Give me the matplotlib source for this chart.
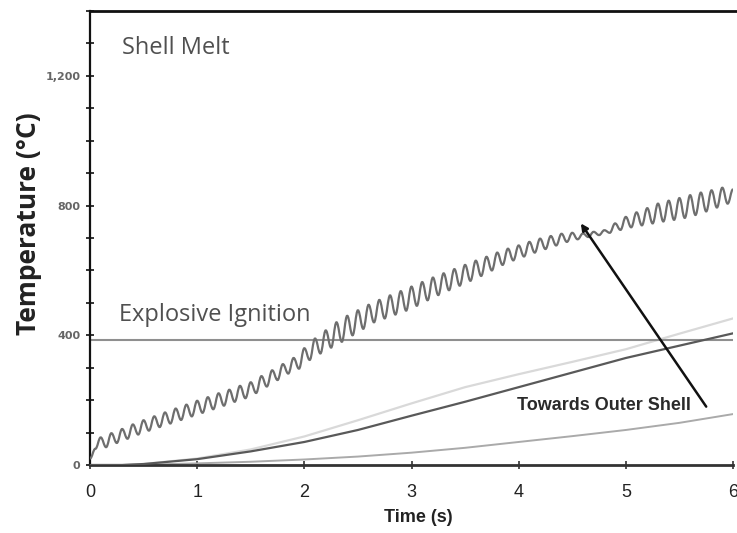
import numpy as np
import matplotlib
matplotlib.use("Agg")
import matplotlib.pyplot as plt
from matplotlib.ticker import MultipleLocator
from matplotlib.path import Path
from matplotlib.patches import PathPatch

# ---- data ----
shell_melt = 1400
ignition = 385

# oscillating temperature trace, sampled every 0.05 s from 0 to 6 s
wave = [20, 50, 85, 55, 98, 68, 111, 81, 125, 94,
        138, 106, 150, 117, 162, 128, 174, 139, 186, 150,
        198, 161, 209, 172, 221, 183, 232, 195, 244, 206,
        255, 222, 274, 242, 292, 262, 311, 282, 330, 297,
        360, 324, 390, 344, 415, 362, 440, 380, 460, 400,
        477, 420, 494, 440, 509, 452, 523, 464, 536, 476,
        550, 491, 564, 508, 578, 524, 591, 539, 604, 553,
        617, 568, 630, 583, 642, 600, 655, 617, 667, 631,
        677, 643, 688, 655, 698, 666, 706, 677, 713, 688,
        716, 696, 714, 703, 719, 709, 724, 716, 745, 725,
        765, 733, 779, 739, 792, 745, 806, 751, 815, 756,
        823, 762, 832, 771, 840, 782, 847, 794, 855, 806,
        850]
wave_t = np.linspace(0, 6, len(wave))

curve_t = [0, 0.3, 0.5, 1, 1.5, 2, 2.5, 3, 3.5, 4, 4.5, 5, 5.5, 6]
dark_curve = [0, 0, 3, 18, 42, 71, 108, 152, 195, 240, 285, 330, 368, 406]
light_curve = [0, 0, 3, 20, 48, 88, 138, 190, 240, 280, 318, 357, 405, 452]
low_curve = [0, 0, 1, 5, 10, 17, 26, 38, 53, 71, 89, 108, 130, 157]

x_ticks = [0, 1, 2, 3, 4, 5, 6]
y_ticks = [0, 400, 800, 1200]
y_tick_labels = ["0", "400", "800", "1,200"]

# ---- figure ----
W, H = 737, 533
fig = plt.figure(figsize=(W/100, H/100), dpi=100)
ax = fig.add_axes([90/W, 1-465/H, 643/W, 454/H])

ax.plot(curve_t, light_curve, color="#d9d9d9", lw=1.6, zorder=2)
ax.plot(curve_t, low_curve, color="#aaaaaa", lw=1.4, zorder=2)
ax.plot(curve_t, dark_curve, color="#595959", lw=1.6, zorder=3)
ax.axhline(ignition, color="#8f8f8f", lw=1.5, zorder=2)

# oscillating trace drawn as a smooth bezier path through the sampled points
verts = [(wave_t[0], wave[0])]
codes = [Path.MOVETO]
for i in range(len(wave) - 1):
    d = (wave_t[i + 1] - wave_t[i]) * 0.4
    verts += [(wave_t[i] + d, wave[i]), (wave_t[i + 1] - d, wave[i + 1]),
              (wave_t[i + 1], wave[i + 1])]
    codes += [Path.CURVE4] * 3
ax.add_patch(PathPatch(Path(verts, codes), fill=False, edgecolor="#6e6e6e",
                       lw=1.6, zorder=4))

ax.axhline(shell_melt, xmin=0, xmax=1.01, color="#111111", lw=2.0,
           clip_on=False, zorder=5)

ax.set_xlim(0, 6)
ax.set_ylim(0, 1400)

for s in ["top", "right"]:
    ax.spines[s].set_visible(False)
ax.spines["left"].set_linewidth(1.6)
ax.spines["left"].set_color("#111111")
ax.spines["bottom"].set_linewidth(2.0)
ax.spines["bottom"].set_color("#333333")

ax.set_xticks(x_ticks)
ax.set_xticklabels([str(v) for v in x_ticks], fontsize=13,
                   family="Liberation Sans", color="#222222")
ax.set_yticks(y_ticks)
ax.set_yticklabels(y_tick_labels, fontsize=8, fontweight="bold",
                   family="DejaVu Sans", color="#666666")
ax.yaxis.set_minor_locator(MultipleLocator(100))
ax.tick_params(axis="y", which="both", direction="inout", length=6, width=1.2,
               color="#111111", pad=4)
ax.tick_params(axis="x", which="both", direction="inout", length=6, width=1.2,
               color="#333333", pad=11)

fig.text(418/W, 1-518/H, "Time (s)", fontsize=13, fontweight="bold",
         family="Liberation Sans", ha="center", va="center", color="#222222")
fig.text(29/W, 1-224/H, "Temperature (°C)", rotation=90, fontsize=19,
         fontweight="bold", family="Open Sans", ha="center", va="center",
         color="#222222")

ax.text(0.30, 1268, "Shell Melt", fontsize=17, family="Open Sans",
        color="#505050", va="baseline", ha="left")
ax.text(0.27, 443, "Explosive Ignition", fontsize=17, family="Open Sans",
        color="#505050", va="baseline", ha="left")

ax.annotate("", xy=(4.58, 745), xytext=(5.75, 180),
            arrowprops=dict(arrowstyle="-|>", color="#111111", lw=1.8,
                            mutation_scale=10, shrinkA=0, shrinkB=0),
            zorder=6)
ax.text(4.8, 182, "Towards Outer Shell", fontsize=13, fontweight="bold",
        family="Liberation Sans", color="#2a2a2a", ha="center", va="center")

fig.savefig("out.png", dpi=100)
